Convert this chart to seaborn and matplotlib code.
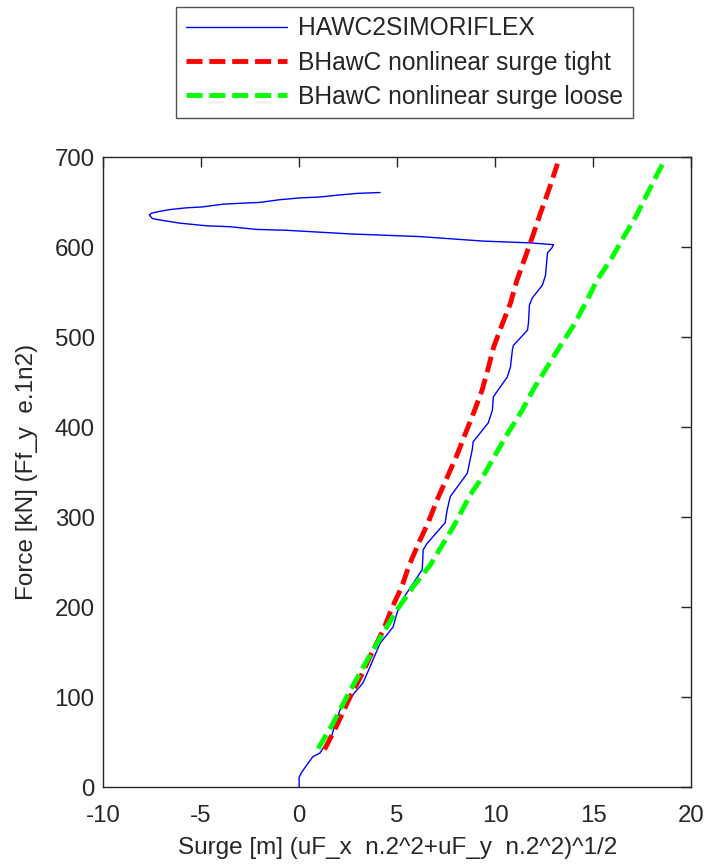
import matplotlib
matplotlib.use("Agg")
import matplotlib.pyplot as plt
import seaborn as sns
import pandas as pd

# ---- data ----
blue_x = [0.0, 0.0, 0.14, 0.70, 1.06, 1.67, 2.08, 3.26, 3.62, 4.13, 4.79, 5.00, 5.25,
          5.83, 6.28, 6.33, 6.53, 7.45, 7.55, 7.71, 8.58, 8.83, 8.88, 9.65, 9.86, 9.91,
          10.62, 10.78, 10.88, 10.93, 11.65, 11.70, 11.75, 11.90, 12.41, 12.57, 12.67,
          12.88, 12.98, 11.80, 9.40, 6.17, 2.59, -0.63, -2.17, -3.54, -4.72, -6.10,
          -6.97, -7.48, -7.64, -7.53, -7.13, -6.61, -5.74, -4.92, -3.90, -3.03, -2.01,
          -0.99, 0.04, 1.06, 1.93, 2.95, 4.13]
blue_y = [0, 11, 17, 34, 38, 58, 86, 116, 134, 160, 178, 194, 208,
          227, 242, 264, 271, 294, 308, 323, 349, 375, 384, 405, 419, 434,
          456, 467, 486, 491, 508, 516, 536, 544, 558, 569, 594,
          599, 603, 605, 607, 612, 615, 619, 620, 623, 624, 627,
          630, 632, 636, 638, 640, 642, 644, 645, 648, 649, 650,
          653, 655, 656, 658, 660, 661]

red_x = [1.30, 1.95, 2.59, 3.19, 3.70, 4.30, 4.73, 5.24, 5.60, 6.09, 6.60, 7.03, 7.54,
         8.05, 8.48, 8.90, 9.33, 9.66, 9.92, 10.35, 10.78, 11.12, 11.55, 11.97, 12.31,
         12.74, 13.18]
red_y = [42, 70, 100, 125, 149, 175, 199, 223, 246, 271, 295, 319, 344,
         369, 393, 416, 441, 467, 489, 514, 538, 564, 590, 616, 638,
         664, 693]

green_x = [0.97, 1.70, 2.42, 3.00, 3.62, 4.38, 5.05, 5.82, 6.69, 7.88, 8.73, 9.42, 10.10,
           10.69, 11.38, 11.97, 12.65, 13.34, 14.02, 14.61, 15.21, 15.89, 16.57, 17.17,
           17.77, 18.57]
green_y = [43, 70, 100, 123, 147, 175, 199, 223, 247, 290, 325, 347, 373,
           395, 419, 443, 467, 491, 514, 538, 564, 586, 612, 634,
           660, 694]

labels = ["HAWC2SIMORIFLEX", "BHawC nonlinear surge tight", "BHawC nonlinear surge loose"]
x_ticks = [-10, -5, 0, 5, 10, 15, 20]
y_ticks = [0, 100, 200, 300, 400, 500, 600, 700]
x_label = "Surge [m] (uF_x  n.2^2+uF_y  n.2^2)^1/2"
y_label = "Force [kN] (Ff_y  e.1n2)"

sns.set_style("white")
plt.rcParams["font.family"] = ["Liberation Sans", "DejaVu Sans"]
plt.rcParams["font.size"] = 17

fig = plt.figure(figsize=(7.06, 8.64), dpi=100)
ax = fig.add_axes([0.146, 0.0888, 0.833, 0.729])

df_b = pd.DataFrame({"x": blue_x, "y": blue_y})
df_r = pd.DataFrame({"x": red_x, "y": red_y})
df_g = pd.DataFrame({"x": green_x, "y": green_y})

sns.lineplot(data=df_b, x="x", y="y", sort=False, estimator=None, ax=ax,
             color="#0000ff", linewidth=1.0, label=labels[0])
sns.lineplot(data=df_r, x="x", y="y", sort=False, estimator=None, ax=ax,
             color="#ff0000", linewidth=3.5, linestyle=(0, (3.3, 1.4)), label=labels[1])
sns.lineplot(data=df_g, x="x", y="y", sort=False, estimator=None, ax=ax,
             color="#00ff00", linewidth=3.5, linestyle=(0, (3.3, 1.4)), label=labels[2])

txt = "#262626"
ax.set_xlim(-10, 20)
ax.set_ylim(0, 700)
ax.set_xticks(x_ticks)
ax.set_yticks(y_ticks)
ax.set_xticklabels([str(t) for t in x_ticks])
ax.set_yticklabels([str(t) for t in y_ticks])
ax.tick_params(direction="in", top=True, right=True, length=7, width=1,
               color=txt, labelsize=17.3, labelcolor=txt)
ax.tick_params(axis="x", pad=13)
ax.tick_params(axis="y", pad=6)
for s in ax.spines.values():
    s.set_visible(True)
    s.set_color(txt)
    s.set_linewidth(1.0)
ax.set_xlabel(x_label, fontsize=17.5, color=txt, labelpad=7)
ax.set_ylabel(y_label, fontsize=17.5, color=txt, labelpad=12)

leg = ax.legend(loc="upper center", bbox_to_anchor=(0.573, 0.992),
                bbox_transform=fig.transFigure, frameon=True, fancybox=False,
                edgecolor=txt, fontsize=17.7, handlelength=4.1,
                handletextpad=0.48, labelspacing=0.42, borderpad=0.38,
                borderaxespad=0)
leg.get_frame().set_linewidth(1.0)
for t in leg.get_texts():
    t.set_color(txt)

fig.savefig("out.png", dpi=100)
